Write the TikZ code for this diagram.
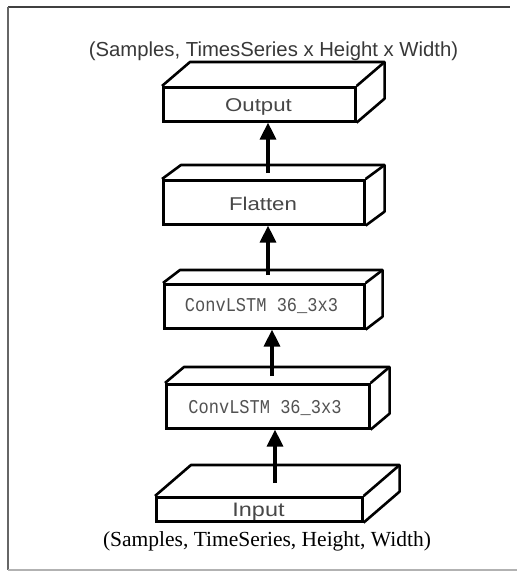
\documentclass[tikz,border=0pt]{standalone}
\usepackage{fontspec}
\usepackage{graphicx}
\setmainfont{Liberation Serif}
\newfontfamily\labelsans{Liberation Sans}
\newfontfamily\labelmono{Liberation Mono}
\usetikzlibrary{arrows.meta,calc}

% draws the top and right faces of a layer block behind its front face
\newcommand\layerdepth[3]{%
  \draw[edge3d] (#1.north west) -- ++(#2,#3) -- ($(#1.north east)+(#2,#3)$)
    -- ($(#1.south east)+(#2,#3)$) -- (#1.south east);
  \draw[edge3d] ($(#1.north east)+(#2,#3)$) -- (#1.north east);
}

\tikzset{
  face/.style={draw=black, line width=2.6pt, inner sep=0pt, anchor=north west, fill=white},
  edge3d/.style={draw=black, line width=2.6pt, line join=round},
  flow/.style={line width=3.2pt, -{Triangle[length=17pt,width=16pt]}},
  sanslabel/.style={anchor=base, inner sep=0pt, text=black!72,
    font=\labelsans\fontsize{18.5}{20}\selectfont},
  monolabel/.style={anchor=base, inner sep=0pt, text=black!68,
    font=\labelmono\fontsize{17}{20}\selectfont},
  frameline/.style={line width=1.6pt, draw=black!75},
}

\begin{document}
\begin{tikzpicture}[x=1pt,y=-1pt]
\useasboundingbox (0,0) rectangle (517,572);

% page frame
\coordinate (ftl) at (8,7);
\coordinate (ftr) at (510,7);
\coordinate (fbl) at (8,570);
\coordinate (fbr) at (517,570);
\draw[frameline, line width=2pt] (ftl) -- (ftr);
\draw[frameline, draw=black!60] (ftl) -- (fbl);
\draw[frameline, draw=black!30, line width=1.2pt] (fbl) -- (fbr);

% shape annotations
\node[anchor=base, inner sep=0pt, text=black!78,
      font=\labelsans\fontsize{20.3}{22}\selectfont] (outshape) at (273.5,57)
      {(Samples, TimesSeries x Height x Width)};
\node[anchor=base, inner sep=0pt, font=\fontsize{21.5}{24}\selectfont] (inshape) at (267,546)
      {(Samples, TimeSeries, Height, Width)};

% layer blocks, top to bottom
\node[face, minimum width=192pt, minimum height=34pt] (out)  at (162,86) {};
\layerdepth{out}{28}{-24}
\node[sanslabel] (outlbl) at (258.5,112) {\scalebox{1.2}[1]{Output}};

\node[face, minimum width=201pt, minimum height=44pt] (flat) at (162,179) {};
\layerdepth{flat}{19}{-14}
\node[sanslabel] (flatlbl) at (263,210) {\scalebox{1.2}[1]{Flatten}};

\node[face, minimum width=200pt, minimum height=44pt] (convA) at (163,283) {};
\layerdepth{convA}{17}{-13}
\node[monolabel] (convAlbl) at (261.5,311) {\scalebox{1}[1.15]{ConvLSTM 36\_3x3}};

\node[face, minimum width=203pt, minimum height=44pt] (convB) at (165,383) {};
\layerdepth{convB}{19}{-16}
\node[monolabel] (convBlbl) at (265,413) {\scalebox{1}[1.15]{ConvLSTM 36\_3x3}};

\node[face, minimum width=206pt, minimum height=24pt] (inp) at (155,496) {};
\layerdepth{inp}{36}{-31}
\node[sanslabel, font=\labelsans\fontsize{19.5}{22}\selectfont] (inplbl) at (258.5,516)
      {\scalebox{1.2}[1]{Input}};

% data flow arrows, each starting on the top face of the lower block
\coordinate (s1) at (275,483);
\coordinate (s2) at (272,376);
\coordinate (s3) at (268,275);
\coordinate (s4) at (268,173);
\draw[flow] (s1) -- (s1 |- convB.south);
\draw[flow] (s2) -- (s2 |- convA.south);
\draw[flow] (s3) -- (s3 |- flat.south);
\draw[flow] (s4) -- (s4 |- out.south);
\end{tikzpicture}
\end{document}
